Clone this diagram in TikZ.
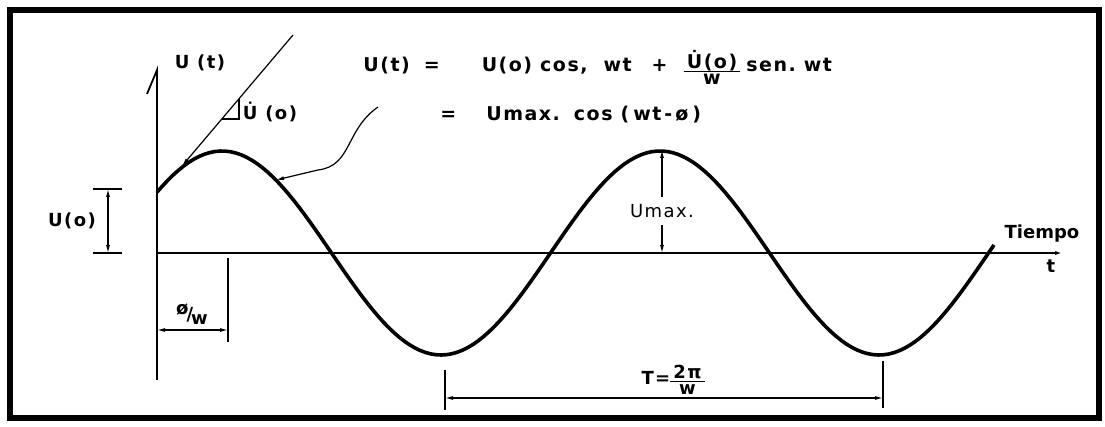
\documentclass[tikz,border=0pt]{standalone}
\usepackage{amsmath}
\usepackage{fontspec}
\setmainfont{DejaVu Sans}[LetterSpace=8]
\newfontfamily\plainfont{DejaVu Sans}
\usetikzlibrary{positioning,arrows.meta}
\newcommand{\hfrac}[2]{{\renewcommand{\arraystretch}{0}\begin{tabular}[c]{@{}c@{}}\rule[-1pt]{0pt}{7pt}\,#1\,\\\hline\rule{0pt}{6.5pt}#2\end{tabular}}}

\begin{document}
\begin{tikzpicture}[x=0.5pt, y=-0.5pt, font=\fontsize{9}{11}\selectfont\bfseries,
  >={Latex[length=4pt,width=2pt]},
  frame/.style={line width=3.2pt},
  axis/.style={line width=0.9pt},
  wave/.style={line width=1.8pt, line join=round},
  dim/.style={line width=0.6pt},
  lbl/.style={inner sep=1pt},
  eq/.style={lbl, anchor=base west, font=\fontsize{9.5}{11}\selectfont\bfseries}]
\useasboundingbox (0,0) rectangle (1105,427);
\draw[frame] (10,10) rectangle (1099,418);
% axes
\coordinate (O) at (157,253);
\coordinate (ybot) at (157,380);
\coordinate (ytop) at (157,70);
\coordinate (ybarb) at (147,94);
\coordinate (xend) at (1063,253);
\draw[axis] (ybot) -- (ytop) -- (ybarb);
\draw[axis, ->] (O) -- (xend);
\node[lbl] (ut) at (200,63) {U (t)};
\node[lbl] (tiempo) at (1042,234) {\plainfont\bfseries Tiempo};
\node[lbl] (t) at (1051,266) {t};
% oscillation
\draw[wave] plot[domain=157:994, samples=160] (\x,{253-102*cos((\x-222)/438*360)});
% initial slope
\coordinate (tg1) at (293,35);
\coordinate (tg2) at (182,166);
\draw[dim, ->] (tg1) -- (tg2);
\coordinate (sl1) at (222,119);
\coordinate (sl2) at (239,119);
\coordinate (sl3) at (239,99);
\draw[dim] (sl1) -- (sl2) -- (sl3);
\node[lbl] (udot) at (270,112) {\.U (o)};
% formula and pointer
\node[eq] (eq1) at (361,72) {U(t)\hspace{7pt}=\hspace{21pt}U(o)\hspace{4pt}cos,\hspace{8pt}wt\hspace{10pt}+\hspace{8pt}\hfrac{\.U(o)}{w}\hspace{3pt}sen.\hspace{4pt}wt};
\node[eq] (eq2) at (438,121) {=\hspace{15pt}Umax.\hspace{7pt}cos\hspace{4pt}(\hspace{2pt}wt\hspace{1.5pt}-\hspace{1.5pt}ø\hspace{2pt})};
\coordinate (p1) at (378,107);
\coordinate (p2) at (276,180);
\draw[dim, ->] (p1) .. controls (345,130) and (352,166) .. (318,170) -- (p2);
% U(o)
\coordinate (uo-t) at (108,189);
\coordinate (uo-b) at (108,253);
\draw[dim] ([xshift=-7.5pt]uo-t) -- ([xshift=7pt]uo-t);
\draw[dim] ([xshift=-7.5pt]uo-b) -- ([xshift=7pt]uo-b);
\draw[dim, <->] (uo-t) -- (uo-b);
\node[lbl] (uo) at (72,221) {U(o)};
% phase shift
\coordinate (ph-t) at (228,258);
\coordinate (ph-b) at (228,342);
\coordinate (ph-l) at (157,330);
\coordinate (ph-r) at (228,330);
\draw[dim] (ph-t) -- (ph-b);
\draw[dim, <->] (ph-l) -- (ph-r);
\node[lbl] (phw) at (192,314) {\raisebox{3pt}{ø}\hspace{-1pt}/\hspace{-1pt}\raisebox{-2pt}{w}};
% amplitude
\coordinate (um-t) at (662,150);
\coordinate (um-b) at (662,253);
\node[lbl, inner sep=3.5pt, font=\fontsize{9}{11}\selectfont] (umax) at (662,211) {Umax.};
\draw[dim, ->] (umax.north) -- (um-t);
\draw[dim, ->] (umax.south) -- (um-b);
% period
\coordinate (T-l) at (445,398);
\coordinate (T-r) at (883,398);
\draw[dim] (445,370) -- (445,410);
\draw[dim] (883,361) -- (883,408);
\draw[dim, <->] (T-l) -- (T-r);
\node[lbl] (T) at (673,380) {T=\hfrac{2π}{w}};
\end{tikzpicture}
\end{document}
